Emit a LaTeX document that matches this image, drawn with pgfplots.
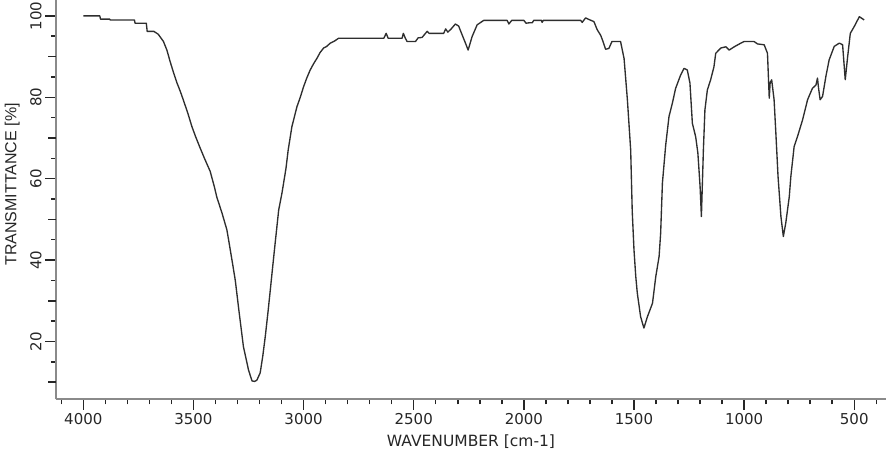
\documentclass[border=0pt]{standalone}
\usepackage{fontspec}
\setmainfont{DejaVu Sans}
\newfontfamily\libsans{Liberation Sans}
\usepackage{pgfplots}
\pgfplotsset{compat=1.18}
\definecolor{spec}{HTML}{2E2E2E}
\definecolor{axgray}{HTML}{8A8A8A}
\begin{document}
\begin{tikzpicture}
\path[use as bounding box] (-56pt,-54.7pt) rectangle (831pt,399.3pt);
\begin{axis}[
  at={(0,0)}, anchor=south west,
  scale only axis, width=830pt, height=399.3pt,
  x dir=reverse,
  xmin=356, xmax=4124, ymin=5.8, ymax=103.9,
  axis lines=left,
  axis line style={-, draw=axgray, line width=1.6pt},
  tick align=outside,
  major tick length=10.7pt, minor tick length=5pt,
  tick style={black!85, line width=1.5pt},
  xtick={500,1000,...,4000},
  minor xtick={400,500,...,4100},
  ytick={20,40,60,80,100},
  minor ytick={15,25,...,95},
  extra y ticks={10,30,50,70,90},
  extra y tick labels={},
  extra y tick style={major tick length=7.5pt},
  /pgf/number format/1000 sep={},
  /pgf/number format/assume math mode=true,
  ticklabel style={font=\fontsize{15}{16}\selectfont, text=black!85},
  yticklabel style={rotate=90, anchor=base},
  yticklabel shift=4pt,
  xlabel={WAVENUMBER [cm-1]},
  ylabel={{\libsans TRANSMITTANCE [\%]}},
  xlabel style={at={(rel axis cs:0.5,0)}, anchor=base, yshift=-47pt, font=\fontsize{15.5}{17}\selectfont, text=black!85},
  ylabel style={at={(axis description cs:-0.0476,0.538)}, anchor=base, font=\fontsize{16}{18}\selectfont, text=black!85},
]
\addplot[spec, line width=1.35pt, line join=round] coordinates {
(4000,100) (3925,100) (3922,99.2) (3880,99.2) (3878,99) (3768,99) (3765,98.2) (3714,98.2) (3710,96.2) (3680,96.2) (3660,95.5) (3636,93.7) (3620,91.5) (3606,88.8) (3590,86) (3576,83.7) (3560,81.5) (3545,79.2) (3525,76) (3507,72.8) (3490,70.3) (3470,67.6) (3450,65) (3424,61.8) (3405,58) (3394,55.5) (3370,51.5) (3348,47.4) (3325,40) (3310,35) (3294,27.8) (3273,18.7) (3260,15.5) (3250,13) (3234,10.3) (3222,10.2) (3212,10.5) (3197,12.3) (3185,16.5) (3174,21.2) (3162,27) (3151,32.7) (3140,38.5) (3129,44.2) (3113,52.3) (3098,56.5) (3080,62.5) (3070,67) (3053,72.8) (3030,77.7) (3015,80) (3000,82.6) (2985,84.8) (2970,86.7) (2955,88.2) (2939,89.6) (2925,91) (2909,92.1) (2895,92.5) (2879,93.3) (2860,93.8) (2841,94.5) (2636,94.5) (2625,95.7) (2616,94.5) (2553,94.5) (2547,95.7) (2538,94.5) (2530,93.7) (2492,93.7) (2480,94.6) (2462,94.7) (2439,96.2) (2430,95.7) (2364,95.7) (2355,96.8) (2345,96) (2330,96.8) (2311,98) (2296,97.5) (2280,95.3) (2265,93.3) (2253,91.6) (2235,94.9) (2212,97.8) (2182,98.9) (2076,98.9) (2068,98) (2055,98.9) (2000,98.9) (1990,98.2) (1975,98.3) (1962,98.3) (1955,98.9) (1920,98.9) (1917,98.4) (1912,98.9) (1742,98.9) (1735,98.4) (1720,99.5) (1700,99) (1682,98.6) (1667,96.6) (1651,95.2) (1640,93.6) (1629,91.8) (1614,92) (1600,93.7) (1561,93.7) (1545,89.5) (1530,79.4) (1515,67) (1508,52) (1500,42.5) (1492,36) (1485,31.9) (1470,26.1) (1455,23.3) (1439,26.1) (1416,29.4) (1401,36) (1386,40.9) (1379,46.6) (1371,58.9) (1356,68.3) (1341,75.3) (1326,78.5) (1311,82.2) (1288,85.5) (1273,87.1) (1258,86.7) (1246,83.5) (1235,73.6) (1220,70.3) (1210,66.3) (1200,58.1) (1194,50.7) (1185,67) (1178,76.9) (1167,81.8) (1152,84.3) (1137,87.5) (1129,90.8) (1106,92.1) (1083,92.4) (1068,91.6) (1045,92.4) (1015,93.3) (1000,93.7) (955,93.7) (939,93.1) (909,92.9) (894,90.8) (886,79.8) (882,83.5) (875,84.3) (864,79.4) (856,71.2) (846,60.5) (833,50.7) (822,45.8) (811,49.1) (795,55.6) (788,60.5) (773,67.9) (758,70.3) (735,74.4) (712,79.4) (690,82.2) (674,83) (667,84.7) (662,82.2) (655,79.4) (644,80.2) (629,85.1) (614,89.2) (591,92.5) (568,93.3) (553,92.9) (541,84.3) (530,90) (518,95.7) (500,97.4) (477,99.8) (455,99)
};
\end{axis}
\end{tikzpicture}
\end{document}
